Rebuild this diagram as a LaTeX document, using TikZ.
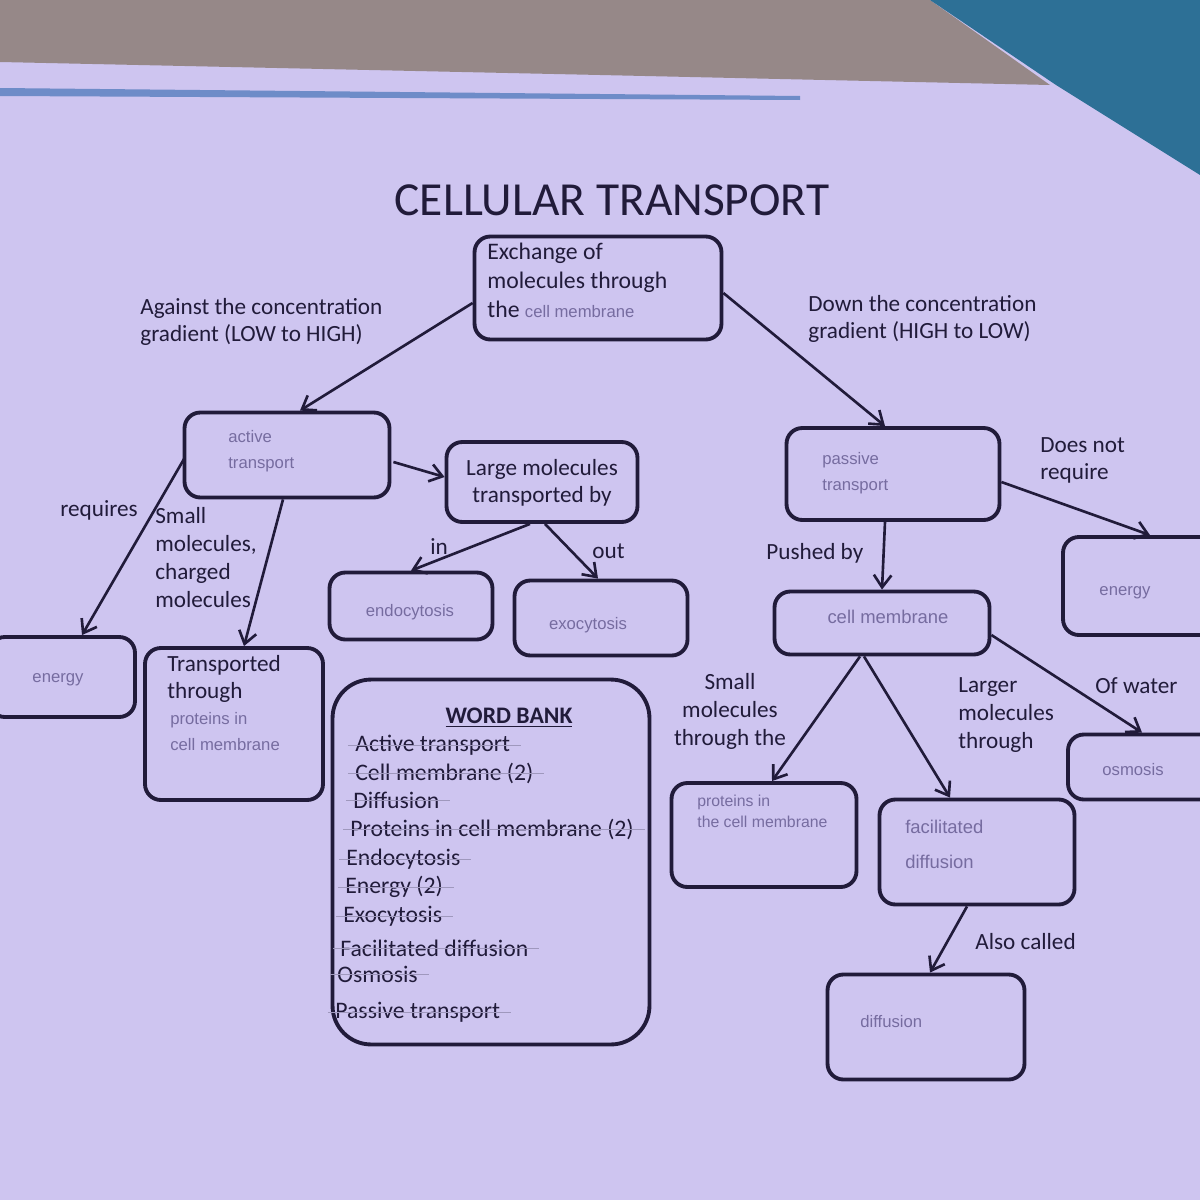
\documentclass[tikz,border=0pt]{standalone}
\usepackage{fontspec}
\setmainfont{Carlito}
\newfontfamily\hand{Liberation Sans}
\usetikzlibrary{arrows.meta,calc}
\definecolor{paper}{RGB}{206,197,240}
\definecolor{ink}{RGB}{33,27,58}
\definecolor{pencil}{RGB}{118,108,160}
\definecolor{carpet}{RGB}{150,136,136}
\definecolor{folder}{RGB}{45,112,150}
\definecolor{stripe}{RGB}{110,140,200}
\tikzset{
  box/.style={draw=ink, line width=2.2pt, rounded corners=9pt, inner sep=0pt},
  lab/.style={text=ink, font=\fontsize{13.2}{15.5}\selectfont, align=left, inner sep=0pt},
  hw/.style={text=pencil, font=\hand\fontsize{9.5}{15}\selectfont, align=left, inner sep=0pt},
  wbi/.style={text=ink, font=\fontsize{13.5}{15}\selectfont, anchor=west, inner sep=0pt},
  arr/.style={draw=ink, line width=1.5pt, -{Straight Barb[length=7pt,width=10pt]}},
  strike/.style={draw=pencil!70, line width=0.5pt, shorten <=-4pt, shorten >=-6pt}
}
\newcommand{\hwin}[1]{{\hand\color{pencil}\fontsize{9.5}{15}\selectfont #1}}
\begin{document}
\begin{tikzpicture}[x=0.02cm,y=-0.02cm]
\useasboundingbox (0,0) rectangle (1200,1200);
% background
\fill[paper] (0,0) rectangle (1200,1200);
\fill[carpet] (0,0) -- (930,0) -- (1050,85) -- (600,75) -- (0,62) -- cycle;
\fill[folder] (930,0) -- (1200,0) -- (1200,175) -- (1056,85) -- cycle;
\fill[stripe] (0,88) -- (800,96) -- (800,100) -- (0,96) -- cycle;

% title
\node[text=ink, font=\fontsize{27}{30}\selectfont, inner sep=0pt] (title) at (612,200) {CELLULAR TRANSPORT};

% boxes
\node[box, minimum width=4.94cm, minimum height=2.06cm] (ex) at (598,288) {};
\node[box, minimum width=4.1cm, minimum height=1.7cm] (act) at (287,455) {};
\node[box, minimum width=3.82cm, minimum height=1.6cm] (large) at (542,482) {};
\node[box, minimum width=4.26cm, minimum height=1.84cm] (pas) at (893,474) {};
\node[box, minimum width=3.08cm, minimum height=1.96cm] (enR) at (1140,586) {};
\node[box, minimum width=3.26cm, minimum height=1.34cm] (endo) at (411,606) {};
\node[box, minimum width=3.46cm, minimum height=1.5cm] (exo) at (601,618) {};
\node[box, minimum width=4.3cm, minimum height=1.26cm] (cm) at (882,623) {};
\node[box, minimum width=2.92cm, minimum height=1.6cm] (enL) at (62,677) {};
\node[box, minimum width=3.56cm, minimum height=3.04cm] (tt) at (234,724) {};
\node[box, rounded corners=22pt, minimum width=6.34cm, minimum height=7.3cm] (wb) at (491,862) {};
\node[box, minimum width=2.96cm, minimum height=1.3cm] (osm) at (1142,767) {};
\node[box, minimum width=3.7cm, minimum height=2.08cm] (prot) at (764,835) {};
\node[box, minimum width=3.9cm, minimum height=2.1cm] (fac) at (977,852) {};
\node[box, minimum width=3.94cm, minimum height=2.1cm] (dif) at (926,1027) {};

% box texts
\node[lab, anchor=north west, font=\fontsize{13.5}{16.5}\selectfont] (exT) at (487,243) {Exchange of\\molecules through\\the \hwin{cell membrane}};
\node[lab, align=center] (largeT) at (542,483) {Large molecules\\transported by};
\node[lab, anchor=north west] (ttT) at (167,655) {Transported\\through};
\node[hw, anchor=north west] (ttH) at (170,712) {proteins in\\cell membrane};
\node[hw, anchor=north west] (actH) at (228,430) {active\\transport};
\node[hw, anchor=north west] (pasH) at (822,452) {passive\\transport};
\node[hw] (endoH) at (410,612) {endocytosis};
\node[hw] (exoH) at (588,625) {exocytosis};
\node[hw, font=\hand\fontsize{10.5}{15}\selectfont] (cmH) at (888,617) {cell membrane};
\node[hw] (enLH) at (58,680) {energy};
\node[hw] (enRH) at (1125,593) {energy};
\node[hw] (osmH) at (1133,770) {osmosis};
\node[hw, anchor=north west, font=\hand\fontsize{9}{12}\selectfont] (protH) at (697,795) {proteins in\\the cell membrane};
\node[hw, anchor=north west, font=\hand\fontsize{10.5}{20}\selectfont] (facH) at (905,820) {facilitated\\diffusion};
\node[hw, anchor=north west] (difH) at (860,1015) {diffusion};

% labels
\node[lab, anchor=north west] (l1) at (140,298) {Against the concentration\\gradient (LOW to HIGH)};
\node[lab, anchor=north west] (l2) at (808,295) {Down the concentration\\gradient (HIGH to LOW)};
\node[lab, anchor=north west] (l3) at (1040,437) {Does not\\require};
\node[lab, anchor=north west] (l4) at (60,500) {requires};
\node[lab, anchor=north west, font=\fontsize{13.2}{16}\selectfont] (l5) at (155,507) {Small\\molecules,\\charged\\molecules};
\node[lab, anchor=north west] (l6) at (430,538) {in};
\node[lab, anchor=north west] (l7) at (592,543) {out};
\node[lab, anchor=north west] (l8) at (766,543) {Pushed by};
\node[lab, anchor=north, align=center, font=\fontsize{13.2}{16}\selectfont] (l9) at (730,673) {Small\\molecules\\through the};
\node[lab, anchor=north west, font=\fontsize{13.2}{16}\selectfont] (l10) at (958,677) {Larger\\molecules\\through};
\node[lab, anchor=north west] (l11) at (1095,677) {Of water};
\node[lab, anchor=north west] (l12) at (975,933) {Also called};

% word bank
\node[text=ink, font=\bfseries\fontsize{13.5}{15}\selectfont, inner sep=0pt] (wbT) at (509,718) {\underline{WORD BANK}};
\node[wbi] (w1) at (355,745) {Active transport};
\node[wbi] (w2) at (355,773) {Cell membrane (2)};
\node[wbi] (w3) at (353,800) {Diffusion};
\node[wbi] (w4) at (350,829) {Proteins in cell membrane (2)};
\node[wbi] (w5) at (346,859) {Endocytosis};
\node[wbi] (w6) at (345,887) {Energy (2)};
\node[wbi] (w7) at (343,916) {Exocytosis};
\node[wbi] (w8) at (340,948) {Facilitated diffusion};
\node[wbi] (w9) at (337,974) {Osmosis};
\node[wbi] (w10) at (335,1012) {Passive transport};
\foreach \w in {w1,w2,w3,w4,w5,w6,w7,w8,w9,w10}
  \draw[strike] (\w.west) -- (\w.east);

% connectors
\draw[arr] ($(ex.west)+(0,15)$) -- ($(act.north)+(13,0)$);
\draw[arr] ($(ex.east)+(0,5)$) -- ($(pas.north)+(-8,0)$);
\draw[arr] ($(act.east)+(2,7)$) -- ($(large.west)+(0,-5)$);
\draw[arr] ($(large.south)+(-12,0)$) -- (endo.north);
\draw[arr] ($(large.south)+(3,0)$) -- ($(exo.north)+(-3,0)$);
\draw[arr] ($(act.west)+(2,3)$) -- ($(enL.north)+(20,0)$);
\draw[arr] ($(act.south)+(-4,0)$) -- ($(tt.north)+(10,0)$);
\draw[arr] ($(pas.south)+(-8,0)$) -- (cm.north);
\draw[arr] ($(pas.east)+(0,8)$) -- ($(enR.north)+(10,0)$);
\draw[arr] ($(cm.south)+(-22,0)$) -- ($(prot.north)+(8,0)$);
\draw[arr] ($(cm.south)+(-18,0)$) -- ($(fac.north)+(-27,0)$);
\draw[arr] ($(cm.east)+(0,12)$) -- (osm.north);
\draw[arr] ($(fac.south)+(-10,0)$) -- ($(dif.north)+(4,0)$);
\end{tikzpicture}
\end{document}
